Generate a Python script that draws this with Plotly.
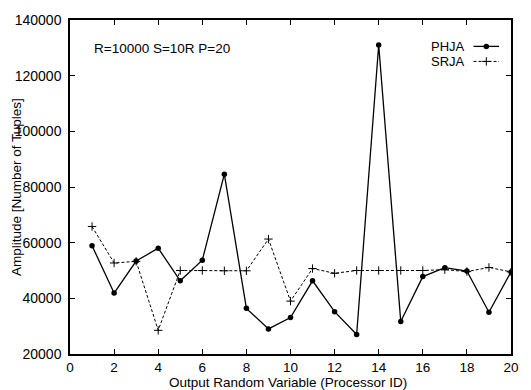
import plotly.graph_objects as go

processor_ids = list(range(1, 21))
phja = [58900, 41900, 53400, 58000, 46300, 53700, 84600, 36400, 29000, 33100,
        46300, 35200, 27000, 131000, 31700, 47800, 51000, 49800, 35000, 49500]
srja = [65800, 52700, 53300, 28500, 50000, 50000, 49900, 49900, 61300, 39000,
        50700, 49000, 50000, 50000, 50000, 50000, 50300, 49600, 51100, 49500]
x_ticks = list(range(0, 21, 2))
y_ticks = list(range(20000, 140001, 20000))
series_names = ["PHJA", "SRJA"]
annotation_text = "R=10000 S=10R P=20"
x_title = "Output Random Variable (Processor ID)"
y_title = "Amplitude [Number of Tuples]"

FONT = "Liberation Sans, Arial, Helvetica, sans-serif"

fig = go.Figure()
fig.add_trace(go.Scatter(
    x=processor_ids, y=phja, mode="lines+markers", name=series_names[0],
    line=dict(color="black", width=1.3),
    marker=dict(symbol="circle", size=5.5, color="black"),
    showlegend=False))
fig.add_trace(go.Scatter(
    x=processor_ids, y=srja, mode="lines+markers", name=series_names[1],
    line=dict(color="black", width=1, dash="3px,2px"),
    marker=dict(symbol="cross-thin", size=6, line=dict(color="black", width=1)),
    showlegend=False))

# custom legend samples (text left of sample, like gnuplot) on an overlay axis in paper units
leg_x0, leg_x1 = 0.915, 0.973
leg_y = [0.921, 0.876]
fig.add_trace(go.Scatter(
    x=[leg_x0, leg_x1], y=[leg_y[0]] * 2, xaxis="x2", yaxis="y2", mode="lines",
    line=dict(color="black", width=1.3), showlegend=False, hoverinfo="skip"))
fig.add_trace(go.Scatter(
    x=[(leg_x0 + leg_x1) / 2], y=[leg_y[0]], xaxis="x2", yaxis="y2", mode="markers",
    marker=dict(symbol="circle", size=5.5, color="black"), showlegend=False, hoverinfo="skip"))
fig.add_trace(go.Scatter(
    x=[leg_x0, leg_x1], y=[leg_y[1]] * 2, xaxis="x2", yaxis="y2", mode="lines",
    line=dict(color="black", width=1, dash="3px,2px"), showlegend=False, hoverinfo="skip"))
fig.add_trace(go.Scatter(
    x=[(leg_x0 + leg_x1) / 2], y=[leg_y[1]], xaxis="x2", yaxis="y2", mode="markers",
    marker=dict(symbol="cross-thin", size=6, line=dict(color="black", width=1)),
    showlegend=False, hoverinfo="skip"))

annotations = [
    dict(text=annotation_text, x=0.05, y=0.915, xref="paper", yref="paper",
         xanchor="left", yanchor="middle", showarrow=False,
         font=dict(family=FONT, size=13.5, color="black")),
    dict(text=x_title, x=0.5, y=0, xref="paper", yref="paper",
         xanchor="center", yanchor="bottom", yshift=-37, xshift=-3, showarrow=False,
         borderpad=0, font=dict(family=FONT, size=13.5, color="black")),
    dict(text=y_title, x=0, y=0.5, xref="paper", yref="paper", textangle=-90,
         xanchor="center", yanchor="middle", xshift=-54, showarrow=False,
         font=dict(family=FONT, size=13.5, color="black")),
]
for name, yy in zip(series_names, leg_y):
    annotations.append(dict(text=name, x=0.9, y=yy, xref="paper", yref="paper",
                            xanchor="right", yanchor="middle", showarrow=False,
                            font=dict(family=FONT, size=13, color="black")))

fig.update_layout(
    width=531, height=390,
    margin=dict(l=70, r=15, t=13, b=36),
    paper_bgcolor="white", plot_bgcolor="white",
    font=dict(family=FONT, size=14, color="black"),
    annotations=annotations,
    xaxis=dict(range=[0, 20], tickvals=x_ticks, ticks="inside", ticklen=5,
               tickwidth=1, tickcolor="black", showline=True, linecolor="black",
               linewidth=1.5, mirror="ticks", showgrid=False, zeroline=False,
               ticklabelstandoff=0, tickfont=dict(size=13.5)),
    yaxis=dict(range=[20000, 140000], tickvals=y_ticks, tickformat="d",
               ticks="inside", ticklen=5,
               tickwidth=1, tickcolor="black", showline=True, linecolor="black",
               linewidth=1.5, mirror="ticks", showgrid=False, zeroline=False,
               ticklabelstandoff=4, tickfont=dict(size=14)),
    xaxis2=dict(range=[0, 1], overlaying="x", visible=False, fixedrange=True),
    yaxis2=dict(range=[0, 1], overlaying="y", visible=False, fixedrange=True),
)

fig.write_html("out.html")
